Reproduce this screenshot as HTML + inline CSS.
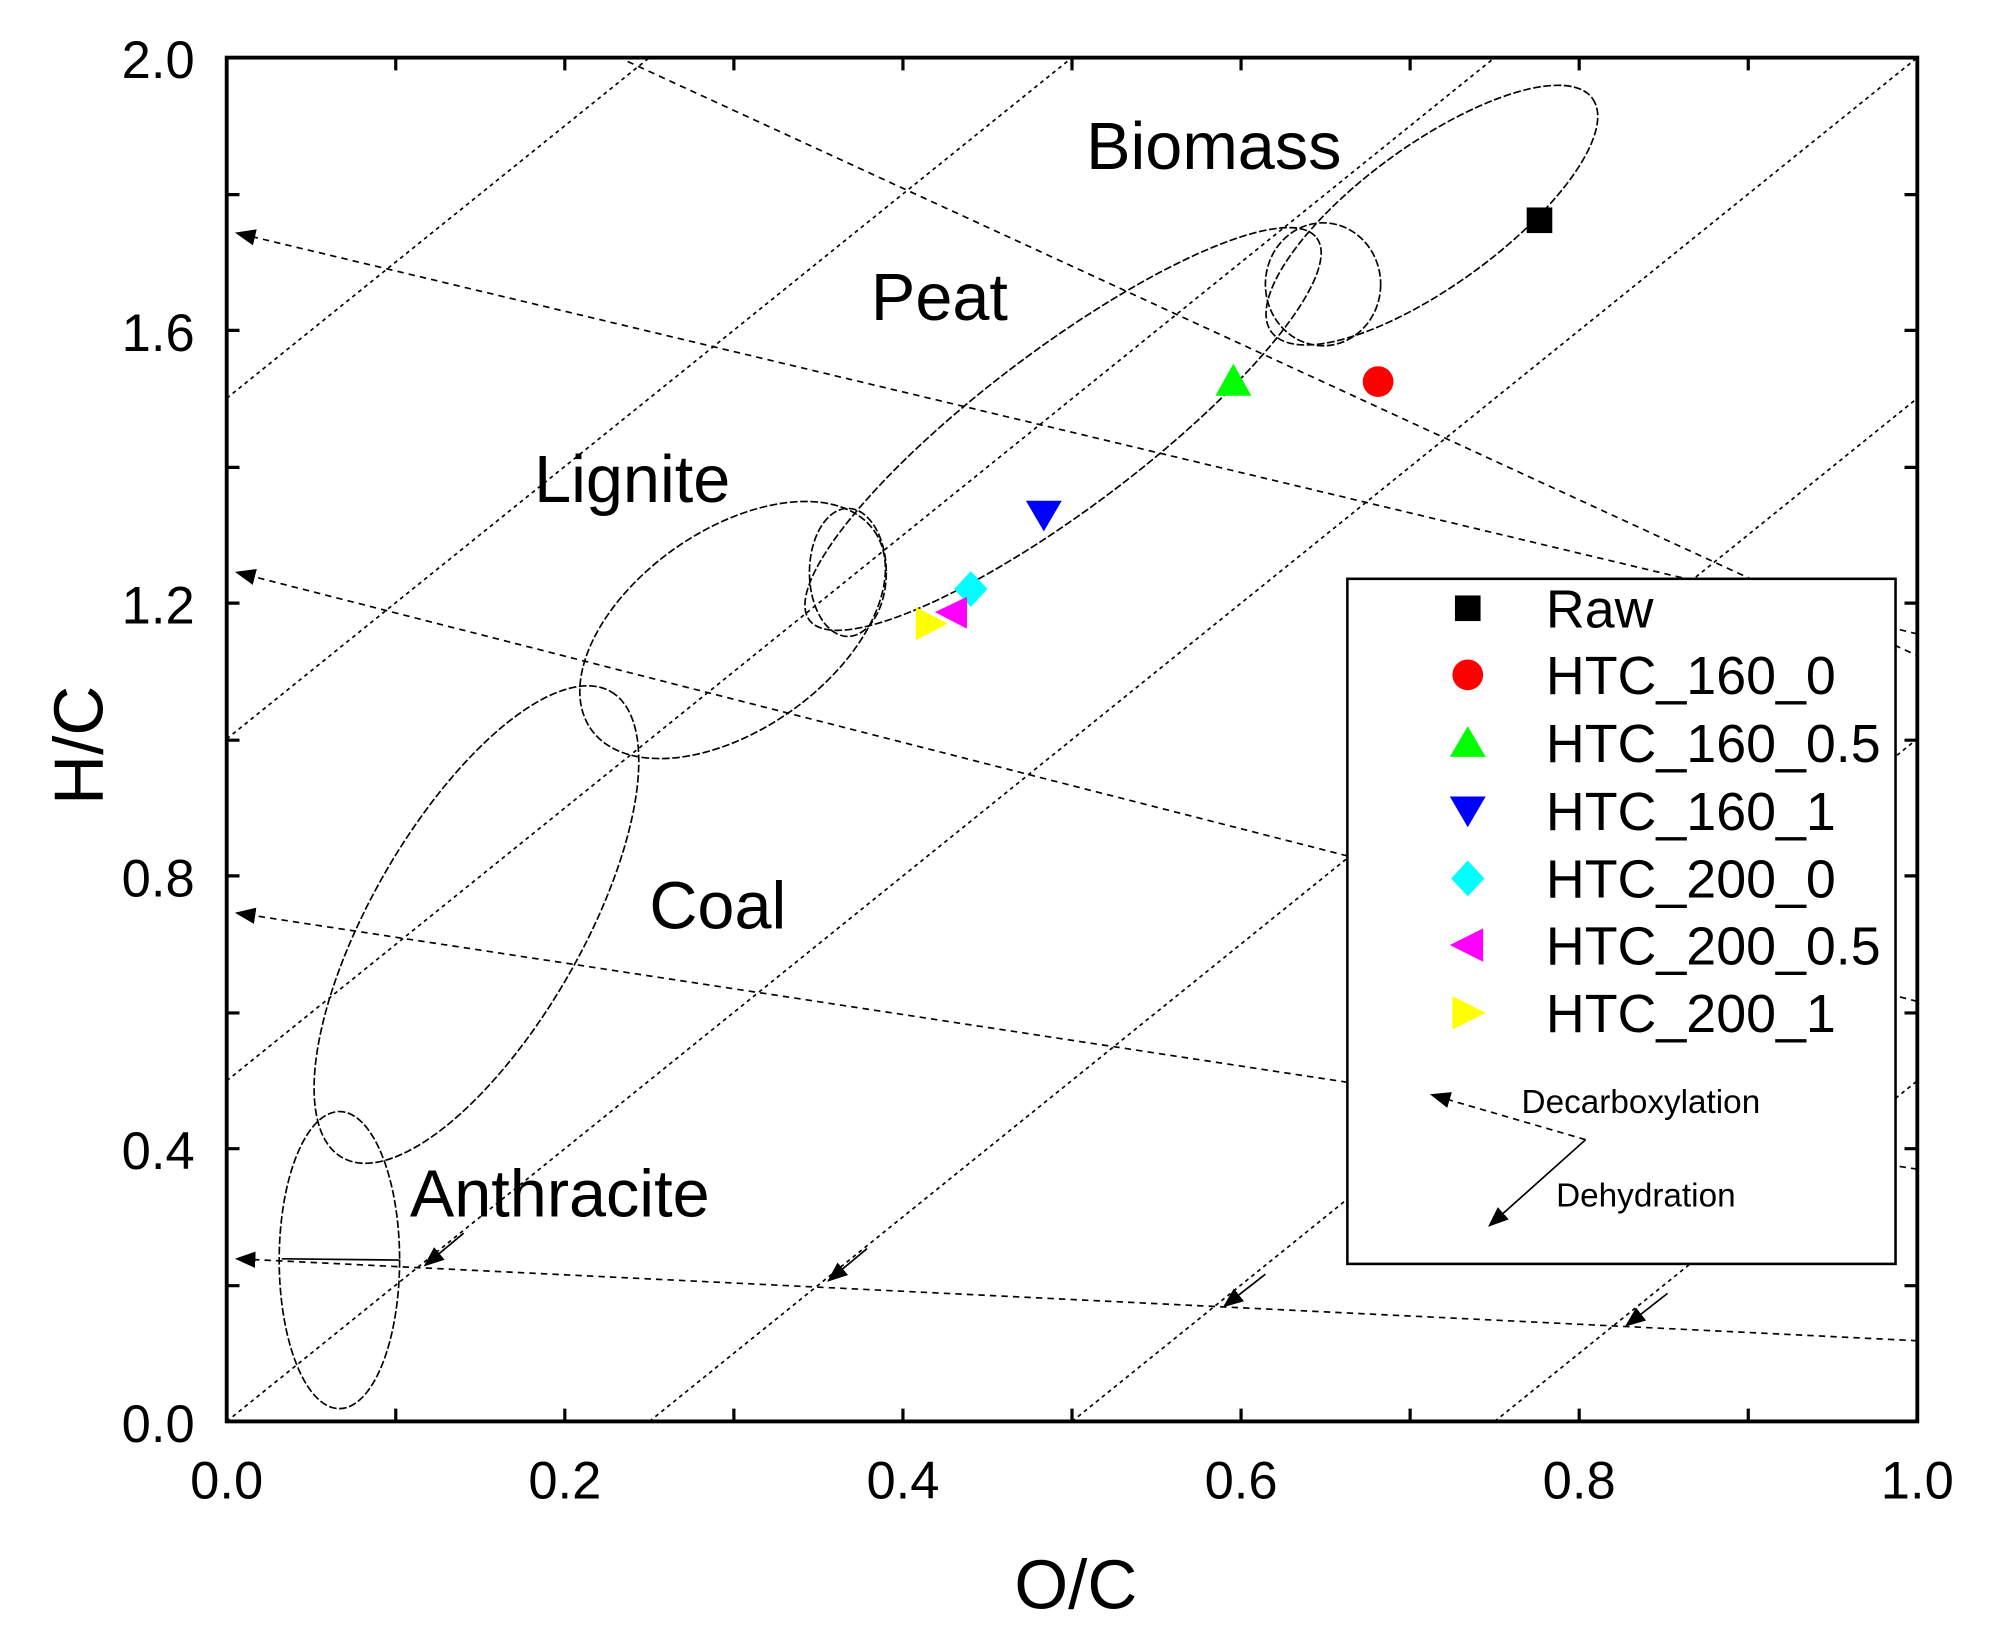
<!DOCTYPE html>
<html><head><meta charset="utf-8"><style>html,body{margin:0;padding:0;background:#fff;}svg{display:block}</style></head>
<body>
<svg width="1998" height="1634" viewBox="0 0 1560 1276" preserveAspectRatio="none" xmlns="http://www.w3.org/2000/svg" font-family="Liberation Sans, Arial, sans-serif">
<defs>
<marker id="ah" viewBox="0 0 10 10" refX="9" refY="5" markerWidth="9" markerHeight="9" markerUnits="userSpaceOnUse" orient="auto-start-reverse"><path d="M0,1 L10,5 L0,9 z" fill="#000"/></marker>
<marker id="ah2" viewBox="0 0 10 10" refX="9" refY="5" markerWidth="16" markerHeight="16" markerUnits="userSpaceOnUse" orient="auto-start-reverse"><path d="M0,1 L10,5 L0,9 z" fill="#000"/></marker>
<clipPath id="pc"><rect x="177" y="45" width="1320" height="1065"/></clipPath>
</defs>
<rect width="1560" height="1276" fill="#fff"/>
<g clip-path="url(#pc)" fill="none" stroke="#000" stroke-width="1.3">
<g stroke-dasharray="3,3">
<path d="M177,1110 L1497,45"/>
<path d="M177,844 L1167,45"/>
<path d="M177,577 L837,45"/>
<path d="M177,311 L507,45"/>
<path d="M507,1110 L1497,311"/>
<path d="M837,1110 L1497,577"/>
<path d="M1167,1110 L1497,844"/>
</g>
<g stroke-dasharray="5,4">
<path d="M490,48 L1497,512"/>
<path d="M1497,495 L185,182" marker-end="url(#ah2)"/>
<path d="M1497,782 L185,447" marker-end="url(#ah2)"/>
<path d="M1497,913 L185,713" marker-end="url(#ah2)"/>
<path d="M1497,1047 L185,983" marker-end="url(#ah2)"/>
</g>
<g>
<path d="M362,963 L332,988" marker-end="url(#ah2)"/>
<path d="M677,975 L647,1000" marker-end="url(#ah2)"/>
<path d="M988,995 L956,1020" marker-end="url(#ah2)"/>
<path d="M1302,1010 L1270,1035" marker-end="url(#ah2)"/>
<path d="M312,984 L220,983"/>
</g>
<g stroke-dasharray="6,2">
<ellipse cx="1118" cy="168" rx="155" ry="55" transform="rotate(-36 1118 168)"/>
<ellipse cx="1033" cy="222" rx="45" ry="48"/>
<ellipse cx="830" cy="335" rx="248" ry="62" transform="rotate(-37 830 335)"/>
<ellipse cx="662" cy="447" rx="30" ry="50"/>
<ellipse cx="572" cy="492" rx="135" ry="78" transform="rotate(-35 572 492)"/>
<ellipse cx="372" cy="722" rx="210" ry="82" transform="rotate(-60 372 722)"/>
<ellipse cx="265" cy="984" rx="47" ry="116"/>
</g>
</g>
<rect x="177" y="45" width="1320" height="1065" fill="none" stroke="#000" stroke-width="3"/>
<g stroke="#000" stroke-width="2.5">
<path d="M309,1110v-10M441,1110v-10M573,1110v-10M705,1110v-10M837,1110v-10M969,1110v-10M1101,1110v-10M1233,1110v-10M1365,1110v-10"/>
<path d="M309,45v10M441,45v10M573,45v10M705,45v10M837,45v10M969,45v10M1101,45v10M1233,45v10M1365,45v10"/>
<path d="M177,1004h10M177,897h10M177,791h10M177,684h10M177,578h10M177,471h10M177,365h10M177,258h10M177,152h10"/>
<path d="M1497,1004h-10M1497,897h-10M1497,791h-10M1497,684h-10M1497,578h-10M1497,471h-10M1497,365h-10M1497,258h-10M1497,152h-10"/>
</g>
<g font-size="41" fill="#000" text-anchor="end">
<text x="152" y="1126">0.0</text>
<text x="152" y="913">0.4</text>
<text x="152" y="700">0.8</text>
<text x="152" y="487">1.2</text>
<text x="152" y="274">1.6</text>
<text x="152" y="61">2.0</text>
</g>
<g font-size="41" fill="#000" text-anchor="middle">
<text x="177" y="1170">0.0</text>
<text x="441" y="1170">0.2</text>
<text x="705" y="1170">0.4</text>
<text x="969" y="1170">0.6</text>
<text x="1233" y="1170">0.8</text>
<text x="1497" y="1170">1.0</text>
<text x="840" y="1256" font-size="54">O/C</text>
<text transform="translate(80,582) rotate(-90)" font-size="54">H/C</text>
</g>
<g font-size="52" fill="#000">
<text x="848" y="132">Biomass</text>
<text x="680" y="250">Peat</text>
<text x="417" y="392">Lignite</text>
<text x="507" y="725">Coal</text>
<text x="320" y="950">Anthracite</text>
</g>
<rect x="1192" y="162" width="20" height="20" fill="#000"/>
<circle cx="1076" cy="298" r="12" fill="#f00"/>
<path d="M963,284 L977,309 L949,309z" fill="#0f0"/>
<path d="M801,391 L829,391 L815,415z" fill="#00f"/>
<path d="M758,446 L771,460 L758,474 L745,460z" fill="#0ff"/>
<path d="M730,478 L755,466 L755,491z" fill="#f0f"/>
<path d="M715,474 L740,487 L715,500z" fill="#ff0"/>
<rect x="1052" y="452" width="428" height="535" fill="#fff" stroke="#000" stroke-width="2"/>
<g font-size="42" fill="#000">
<rect x="1136" y="465" width="20" height="20"/>
<text x="1207" y="490">Raw</text>
<circle cx="1146" cy="527" r="12" fill="#f00"/>
<text x="1207" y="542">HTC_160_0</text>
<path d="M1146,567 L1160,591 L1132,591z" fill="#0f0"/>
<text x="1207" y="595">HTC_160_0.5</text>
<path d="M1132,622 L1160,622 L1146,646z" fill="#00f"/>
<text x="1207" y="648">HTC_160_1</text>
<path d="M1146,672 L1159,686 L1146,700 L1133,686z" fill="#0ff"/>
<text x="1207" y="701">HTC_200_0</text>
<path d="M1132,738 L1158,725 L1158,751z" fill="#f0f"/>
<text x="1207" y="753">HTC_200_0.5</text>
<path d="M1134,778 L1160,791 L1134,804z" fill="#ff0"/>
<text x="1207" y="806">HTC_200_1</text>
</g>
<path d="M1238,890 L1118,855" stroke="#000" stroke-width="1.3" stroke-dasharray="5,4" fill="none" marker-end="url(#ah2)"/>
<path d="M1238,890 L1163,957" stroke="#000" stroke-width="1.3" fill="none" marker-end="url(#ah2)"/>
<g font-size="26" fill="#000">
<text x="1188" y="869">Decarboxylation</text>
<text x="1215" y="942">Dehydration</text>
</g>
</svg>
</body></html>
